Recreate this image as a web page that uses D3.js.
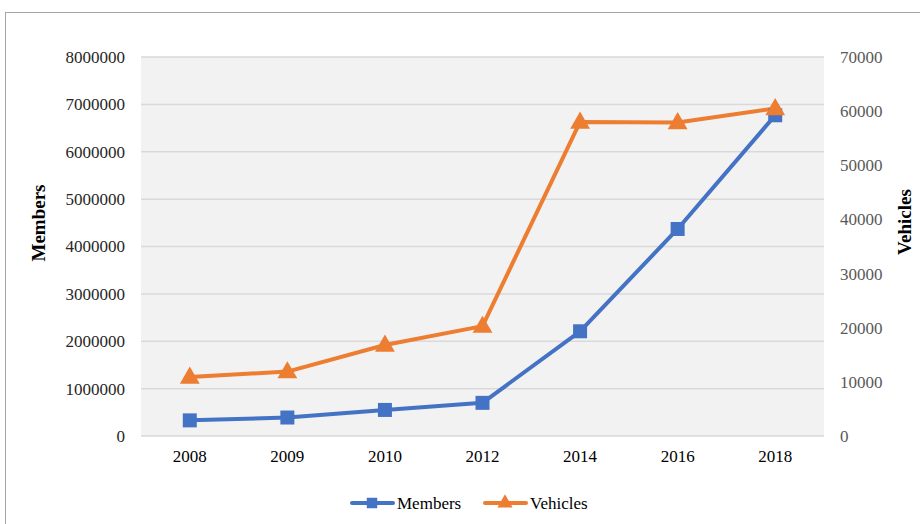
<!DOCTYPE html>
<html><head><meta charset="utf-8">
<script src="https://cdn.jsdelivr.net/npm/d3@7"></script>
<style>body{margin:0;background:#fff}svg{display:block}</style>
</head><body>
<svg id="c" width="920" height="524"></svg>
<script>
const categories = ["2008","2009","2010","2012","2014","2016","2018"];
const members = [330000, 390000, 550000, 700000, 2210000, 4370000, 6770000];
const vehicles = [10900, 11900, 16800, 20300, 58000, 57900, 60500];
const leftTicks = [0,1000000,2000000,3000000,4000000,5000000,6000000,7000000,8000000];
const rightTicks = [0,10000,20000,30000,40000,50000,60000,70000];

const svg = d3.select("#c");
const L=141, R=824, T=57, B=436;
const font = "'Liberation Serif','Times New Roman',serif";

svg.append("rect").attr("x",5.5).attr("y",12.5).attr("width",930).attr("height",530)
  .attr("fill","#fff").attr("stroke","#a6a6a6").attr("stroke-width",1);
svg.append("rect").attr("x",L).attr("y",T).attr("width",R-L).attr("height",B-T).attr("fill","#f2f2f2");

const x = d3.scaleBand().domain(categories).range([L,R]);
const yL = d3.scaleLinear().domain([0,8000000]).range([B,T]);
const yR = d3.scaleLinear().domain([0,70000]).range([B,T]);

// gridlines
svg.append("g").selectAll("line").data(leftTicks).join("line")
  .attr("x1",L).attr("x2",R).attr("y1",d=>yL(d)).attr("y2",d=>yL(d))
  .attr("stroke","#d9d9d9").attr("stroke-width",1.5);

// left axis
const gl = svg.append("g").attr("transform",`translate(${L},0)`)
  .call(d3.axisLeft(yL).tickValues(leftTicks).tickFormat(d3.format("d")).tickSize(0).tickPadding(16));
gl.select(".domain").remove();
gl.selectAll("text").attr("font-family",font).attr("font-size",17).attr("fill","#262626");

// right axis
const gr = svg.append("g").attr("transform",`translate(${R},0)`)
  .call(d3.axisRight(yR).tickValues(rightTicks).tickFormat(d3.format("d")).tickSize(0).tickPadding(16));
gr.select(".domain").remove();
gr.selectAll("text").attr("font-family",font).attr("font-size",17).attr("fill","#595959");

// bottom axis
const gb = svg.append("g").attr("transform",`translate(0,${B})`)
  .call(d3.axisBottom(x).tickSize(0).tickPadding(14));
gb.select(".domain").remove();
gb.selectAll("text").attr("font-family",font).attr("font-size",17).attr("fill","#000");

// axis titles
svg.append("text").attr("transform",`translate(45,223) rotate(-90)`)
  .attr("text-anchor","middle").attr("font-family",font).attr("font-weight","bold")
  .attr("font-size",19).text("Members");
svg.append("text").attr("transform",`translate(911,222) rotate(-90)`)
  .attr("text-anchor","middle").attr("font-family",font).attr("font-weight","bold")
  .attr("font-size",19).text("Vehicles");

const cx = d=>x(d)+x.bandwidth()/2;
const blue="#4472c4", orange="#ed7d31";

// Vehicles line
svg.append("path").datum(vehicles.map((v,i)=>[cx(categories[i]),yR(v)]))
  .attr("d",d3.line()).attr("fill","none").attr("stroke",orange).attr("stroke-width",4).attr("stroke-linejoin","round");
// Members line
svg.append("path").datum(members.map((v,i)=>[cx(categories[i]),yL(v)]))
  .attr("d",d3.line()).attr("fill","none").attr("stroke",blue).attr("stroke-width",4).attr("stroke-linejoin","round");

const sq = d3.symbol().type(d3.symbolSquare).size(196);
const tri = d3.symbol().type(d3.symbolTriangle).size(170);
svg.append("g").selectAll("path").data(members).join("path")
  .attr("d",sq).attr("fill",blue)
  .attr("transform",(d,i)=>`translate(${cx(categories[i])},${yL(d)})`);
svg.append("g").selectAll("path").data(vehicles).join("path")
  .attr("d",tri).attr("fill",orange)
  .attr("transform",(d,i)=>`translate(${cx(categories[i])},${yR(d)+1})`);

// legend
const ly = 503;
const lg = svg.append("g");
lg.append("line").attr("x1",352).attr("x2",393).attr("y1",ly).attr("y2",ly).attr("stroke",blue).attr("stroke-width",4).attr("stroke-linecap","round");
lg.append("path").attr("d",d3.symbol().type(d3.symbolSquare).size(110)).attr("fill",blue).attr("transform",`translate(372,${ly})`);
lg.append("text").attr("x",397).attr("y",ly+6).attr("font-family",font).attr("font-size",17).text("Members");
lg.append("line").attr("x1",485).attr("x2",526).attr("y1",ly).attr("y2",ly).attr("stroke",orange).attr("stroke-width",4).attr("stroke-linecap","round");
lg.append("path").attr("d",d3.symbol().type(d3.symbolTriangle).size(100)).attr("fill",orange).attr("transform",`translate(505,${ly})`);
lg.append("text").attr("x",530).attr("y",ly+6).attr("font-family",font).attr("font-size",17).text("Vehicles");
</script>
</body></html>
